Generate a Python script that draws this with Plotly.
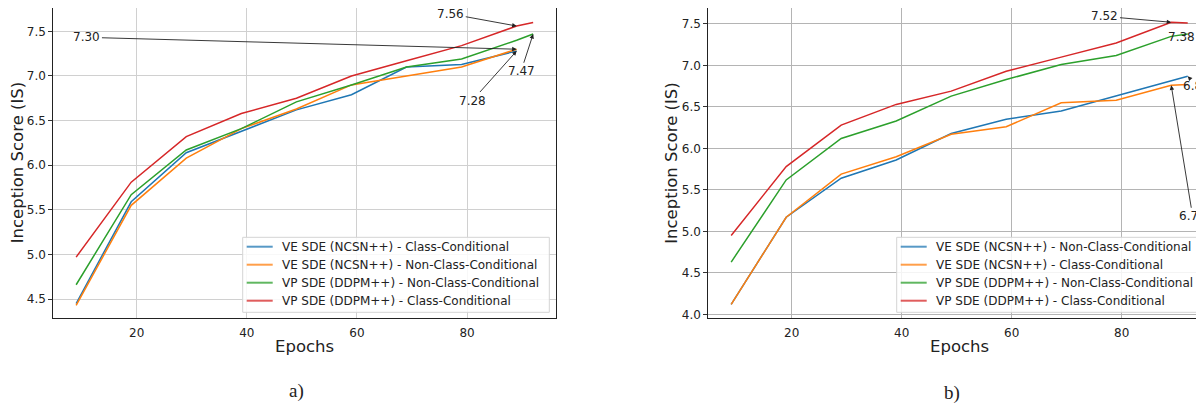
import plotly.graph_objects as go

# ---------------- data ----------------
epochs = [9, 19, 29, 39, 49, 59, 69, 79, 89]
epochs_ext = [9, 19, 29, 39, 49, 59, 69, 79, 89, 92]

# panel a)
a_ve_cc = [4.45, 5.59, 6.14, 6.38, 6.62, 6.79, 7.10, 7.13, 7.28]
a_ve_ncc = [4.43, 5.55, 6.08, 6.41, 6.63, 6.90, 7.00, 7.10, 7.30]
a_vp_ncc = [4.66, 5.67, 6.17, 6.41, 6.71, 6.90, 7.10, 7.19, 7.40, 7.47]
a_vp_cc = [4.97, 5.81, 6.32, 6.58, 6.75, 7.00, 7.17, 7.34, 7.56, 7.60]

# panel b)
b_ve_ncc = [4.12, 5.17, 5.64, 5.86, 6.18, 6.35, 6.45, 6.63, 6.81, 6.87]
b_ve_cc = [4.12, 5.17, 5.69, 5.90, 6.17, 6.26, 6.55, 6.58, 6.76, 6.77]
b_vp_ncc = [4.63, 5.62, 6.12, 6.33, 6.63, 6.83, 7.01, 7.12, 7.35, 7.38]
b_vp_cc = [4.95, 5.78, 6.28, 6.53, 6.69, 6.93, 7.10, 7.27, 7.52, 7.51]

names_a = ["VE SDE (NCSN++) - Class-Conditional",
           "VE SDE (NCSN++) - Non-Class-Conditional",
           "VP SDE (DDPM++) - Non-Class-Conditional",
           "VP SDE (DDPM++) - Class-Conditional"]
names_b = ["VE SDE (NCSN++) - Non-Class-Conditional",
           "VE SDE (NCSN++) - Class-Conditional",
           "VP SDE (DDPM++) - Non-Class-Conditional",
           "VP SDE (DDPM++) - Class-Conditional"]

x_ticks = [20, 40, 60, 80]
y_ticks_a = [4.5, 5.0, 5.5, 6.0, 6.5, 7.0, 7.5]
y_ticks_b = [4.0, 4.5, 5.0, 5.5, 6.0, 6.5, 7.0, 7.5]

colors = ["#1f77b4", "#ff7f0e", "#2ca02c", "#d62728"]

# ---------------- figure ----------------
# the page body has an 8px default margin, so the figure is drawn at (8, 8);
# keep the page no larger than the window so no scrollbar appears
OFF = 8
W, H = 1204 - OFF, 411 - 2 * OFF
FONT = "DejaVu Sans"
fig = go.Figure()

series_a = [(epochs, a_ve_cc), (epochs, a_ve_ncc), (epochs_ext, a_vp_ncc), (epochs_ext, a_vp_cc)]
series_b = [(epochs_ext, b_ve_ncc), (epochs_ext, b_ve_cc), (epochs_ext, b_vp_ncc), (epochs_ext, b_vp_cc)]

for (xs, ys), nm, c in zip(series_a, names_a, colors):
    fig.add_trace(go.Scatter(x=xs, y=ys, mode="lines", name=nm, showlegend=False,
                             line=dict(color=c, width=1.5), xaxis="x", yaxis="y"))
for (xs, ys), nm, c in zip(series_b, names_b, colors):
    fig.add_trace(go.Scatter(x=xs, y=ys, mode="lines", name=nm, showlegend=False,
                             line=dict(color=c, width=1.5), xaxis="x2", yaxis="y2"))

def px_x(p):
    return (p - OFF) / W

def px_y(p):
    return 1 - (p - OFF) / H

ydom = [px_y(318.3), min(px_y(7.3), 1.0)]
tickfont = dict(family=FONT, size=12, color="#222")

common_x = dict(tickvals=x_ticks, ticks="outside", ticklen=3, tickcolor="rgba(0,0,0,0)",
                tickfont=tickfont, showgrid=True, zeroline=False, showline=True,
                linecolor="#222", linewidth=1, automargin=False)
common_y = dict(ticks="outside", ticklen=4, tickcolor="#333", tickformat=".1f",
                tickfont=tickfont, showgrid=True, zeroline=False, showline=True,
                linecolor="#222", linewidth=1, automargin=False)

fig.update_layout(
    width=W, height=H, autosize=False,
    margin=dict(l=0, r=0, t=0, b=0, pad=0, autoexpand=False),
    paper_bgcolor="white", plot_bgcolor="white",
    font=dict(family=FONT, color="#222"),
    showlegend=False,
    xaxis=dict(domain=[px_x(53.3), px_x(556)], range=[4.85, 96.15], anchor="y",
               gridcolor="#d0d0d0", mirror=True, **common_x),
    yaxis=dict(domain=ydom, range=[4.284, 7.762], anchor="x", tickvals=y_ticks_a,
               gridcolor="#d0d0d0", mirror=True, **common_y),
    xaxis2=dict(domain=[px_x(708.3), 1.0], range=[4.84, 94.96], anchor="y2",
                gridcolor="#b4b4b4", mirror=True, **common_x),
    yaxis2=dict(domain=ydom, range=[3.952, 7.692], anchor="x2", tickvals=y_ticks_b,
                gridcolor="#b4b4b4", mirror=False, **common_y),
)

# ---------------- legends (pixel-placed boxes) ----------------
def legend_box(left, top, right, bottom, names, sample_x0, text_x, rows):
    fig.add_shape(type="rect", xref="paper", yref="paper", layer="above",
                  x0=px_x(left), x1=px_x(right), y0=px_y(bottom), y1=px_y(top),
                  fillcolor="rgba(255,255,255,0.85)", line=dict(color="#d4d4d4", width=1))
    for nm, c, ry in zip(names, colors, rows):
        fig.add_shape(type="line", xref="paper", yref="paper", layer="above",
                      x0=px_x(sample_x0), x1=px_x(sample_x0 + 26), y0=px_y(ry), y1=px_y(ry),
                      line=dict(color=c, width=2), opacity=0.75)
        fig.add_annotation(x=px_x(text_x), y=px_y(ry), xref="paper", yref="paper",
                           text=nm, showarrow=False, xanchor="left", yanchor="middle",
                           font=dict(family=FONT, size=12, color="#222"))

rows = [246.7, 264.7, 282.7, 300.7]
legend_box(242.7, 237.3, 549.3, 312.3, names_a, 246.7, 280.0, rows)
legend_box(896.7, 237.3, 1215, 312.3, names_b, 900.7, 934.3, rows)

ann_font = dict(family=FONT, size=12, color="#222")

def arrow(xr, yr, x, y, ax, ay, text):
    fig.add_annotation(x=x, y=y, ax=ax, ay=ay, xref=xr, yref=yr, axref=xr, ayref=yr,
                       text=text, showarrow=True, arrowhead=2, arrowsize=1,
                       arrowwidth=0.9, arrowcolor="#222", font=ann_font)

# panel a annotations
arrow("x", "y", 89, 7.30, 10.96, 7.433, "7.30")
arrow("x", "y", 89, 7.56, 77.04, 7.695, "7.56")
arrow("x", "y", 89, 7.28, 80.96, 6.725, "7.28")
arrow("x", "y", 92, 7.47, 89.8, 7.053, "7.47")
# panel b annotations
arrow("x2", "y2", 89, 7.52, 76.96, 7.591, "7.52")
arrow("x2", "y2", 92, 7.38, 90.78, 7.347, "7.38")
arrow("x2", "y2", 92, 6.87, 93.68, 6.749, "6.87")
arrow("x2", "y2", 89, 6.76, 92.9, 5.182, "6.76")

# axis titles and captions
def label(xp, yp, text, size, angle=0, family=FONT):
    fig.add_annotation(x=px_x(xp), y=px_y(yp), xref="paper", yref="paper",
                       text=text, showarrow=False, textangle=angle,
                       xanchor="center", yanchor="middle",
                       font=dict(family=family, size=size, color="#222"))

label(17.5, 162.8, "Inception Score (IS)", 16.5, -90)
label(672, 162.8, "Inception Score (IS)", 16.5, -90)
label(304.6, 346.7, "Epochs", 16.5)
label(959.4, 346.7, "Epochs", 16.5)
label(296, 391, "a)", 19, family="Liberation Serif")
label(952, 393, "b)", 19, family="Liberation Serif")

fig.write_html("out.html")
